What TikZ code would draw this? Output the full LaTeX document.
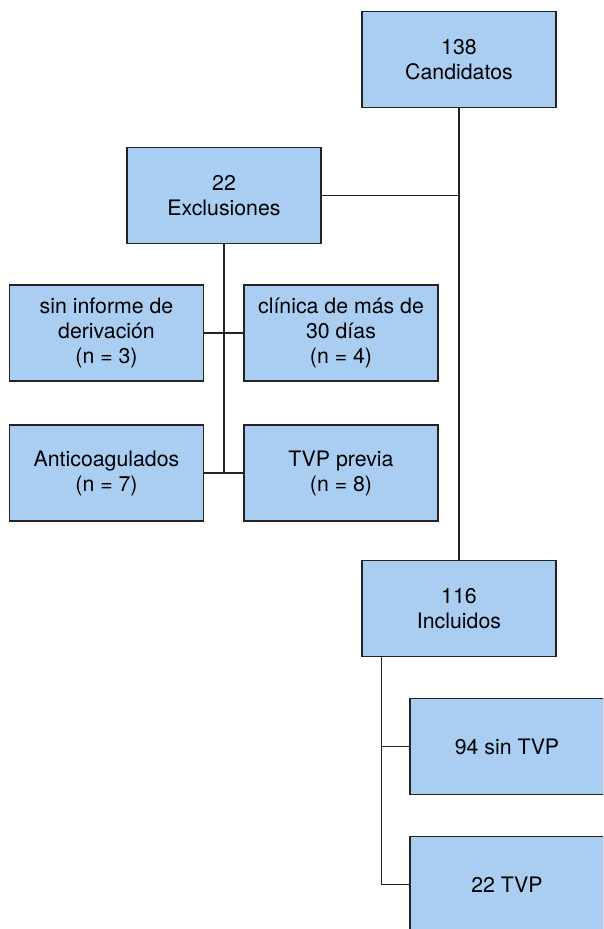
\documentclass[tikz,border=0pt]{standalone}
\usepackage{fontspec}
\setmainfont{TeX Gyre Heros}
\usepackage{tikz}
\usetikzlibrary{calc}
\definecolor{boxblue}{RGB}{170,206,242}
\definecolor{linegray}{RGB}{35,35,35}
\begin{document}
\begin{tikzpicture}[x=1pt, y=-1pt,
  box/.style={draw=linegray, line width=1.3pt, fill=boxblue, minimum width=194pt, minimum height=96pt, align=center, font=\fontsize{21.3}{25}\selectfont, inner sep=0pt},
  con/.style={draw=linegray, line width=1.6pt}]
\useasboundingbox (0,0) rectangle (603,929);
\clip (0,0) rectangle (603,929);
\node[box] (cand) at (459, 59.5) {138\\Candidatos};
\node[box] (excl) at (224, 195.5) {22\\Exclusiones};
\node[box] (sinf) at (106.5, 333) {sin informe de\\derivación\\(n = 3)};
\node[box] (clin) at (341, 333) {clínica de más de\\30 días\\(n = 4)};
\node[box] (anti) at (106.5, 473) {Anticoagulados\\(n = 7)};
\node[box] (tvpp) at (341, 473) {TVP previa\\(n = 8)};
\node[box] (incl) at (459, 608.5) {116\\Incluidos};
\node[box] (sint) at (507, 746.5) {94 sin TVP};
\node[box] (tvp) at (507, 884.5) {22 TVP};
\coordinate (ib) at ($(incl.south west)+(20,0)$);
\draw[con] (cand.south) -- (incl.north);
\draw[con] (excl.east) -- (cand.south |- excl.east);
\draw[con] (excl.south) -- (excl.south |- anti.east);
\draw[con] (sinf.east) -- (clin.west);
\draw[con] (anti.east) -- (tvpp.west);
\draw[con] (ib) -- (ib |- tvp.west) -- (tvp.west);
\draw[con] (ib |- sint.west) -- (sint.west);
\end{tikzpicture}
\end{document}
